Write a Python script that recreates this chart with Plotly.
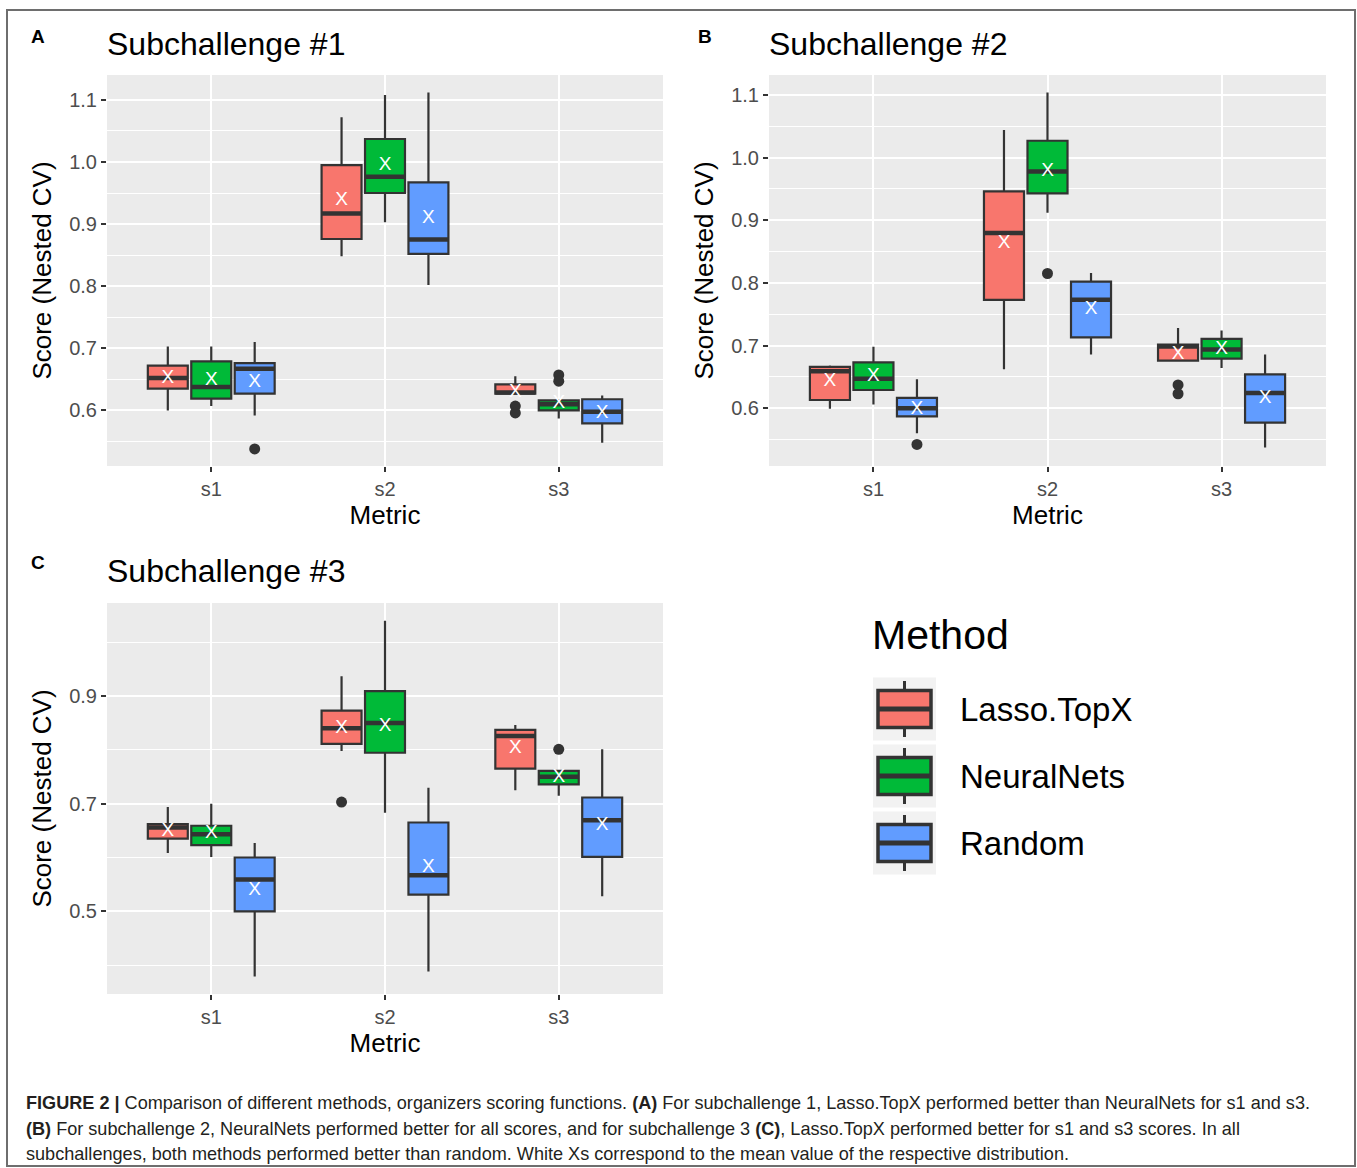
import plotly.graph_objects as go

W, H = 1357, 1168
FONT = "Liberation Sans, Arial, Helvetica, sans-serif"

metrics = ["s1", "s2", "s3"]
methods = ["Lasso.TopX", "NeuralNets", "Random"]
colors = ["#F8766D", "#00BA38", "#619CFF"]

# ---------------- Subchallenge #1 (panel A) ----------------
# each list: [s1, s2, s3]; outer order follows `methods`
sc1_lower = [[0.600, 0.848, 0.627], [0.607, 0.903, 0.587], [0.592, 0.802, 0.548]]
sc1_q1 = [[0.635, 0.876, 0.627], [0.619, 0.950, 0.600], [0.627, 0.852, 0.579]]
sc1_median = [[0.652, 0.917, 0.629], [0.6375, 0.976, 0.610], [0.667, 0.875, 0.598]]
sc1_q3 = [[0.672, 0.995, 0.642], [0.679, 1.037, 0.616], [0.676, 0.967, 0.618]]
sc1_upper = [[0.703, 1.072, 0.655], [0.703, 1.108, 0.617], [0.710, 1.112, 0.624]]
sc1_mean = [[0.652, 0.939, 0.630], [0.648, 0.994, 0.612], [0.646, 0.909, 0.595]]
sc1_out_x = [["s3", "s3"], ["s3", "s3"], ["s1"]]
sc1_out_y = [[0.607, 0.596], [0.657, 0.647], [0.538]]

# ---------------- Subchallenge #2 (panel B) ----------------
sc2_lower = [[0.599, 0.662, 0.676], [0.606, 0.912, 0.664], [0.560, 0.6855, 0.537]]
sc2_q1 = [[0.613, 0.773, 0.676], [0.629, 0.943, 0.679], [0.587, 0.713, 0.577]]
sc2_median = [[0.659, 0.8795, 0.6985], [0.647, 0.978, 0.6935], [0.600, 0.773, 0.624]]
sc2_q3 = [[0.666, 0.946, 0.7015], [0.673, 1.027, 0.7105], [0.6165, 0.802, 0.654]]
sc2_upper = [[0.668, 1.044, 0.728], [0.698, 1.104, 0.724], [0.646, 0.816, 0.6855]]
sc2_mean = [[0.643, 0.864, 0.686], [0.651, 0.979, 0.694], [0.598, 0.758, 0.616]]
sc2_out_x = [["s3", "s3"], ["s2"], ["s1"]]
sc2_out_y = [[0.637, 0.623], [0.815], [0.542]]

# ---------------- Subchallenge #3 (panel C) ----------------
sc3_lower = [[0.6085, 0.798, 0.725], [0.601, 0.683, 0.7146], [0.379, 0.388, 0.528]]
sc3_q1 = [[0.635, 0.811, 0.765], [0.623, 0.7946, 0.736], [0.500, 0.531, 0.601]]
sc3_median = [[0.6557, 0.840, 0.8256], [0.643, 0.850, 0.750], [0.559, 0.567, 0.669]]
sc3_q3 = [[0.662, 0.873, 0.837], [0.659, 0.909, 0.761], [0.600, 0.665, 0.7115]]
sc3_upper = [[0.694, 0.937, 0.846], [0.700, 1.040, 0.763], [0.627, 0.7295, 0.801]]
sc3_mean = [[0.6495, 0.840, 0.8026], [0.6445, 0.843, 0.750], [0.540, 0.5825, 0.660]]
sc3_out_x = [["s2"], ["s3"], []]
sc3_out_y = [[0.703], [0.801], []]

panels = [
    ("x", "y", sc1_lower, sc1_q1, sc1_median, sc1_q3, sc1_upper, sc1_mean, sc1_out_x, sc1_out_y),
    ("x2", "y2", sc2_lower, sc2_q1, sc2_median, sc2_q3, sc2_upper, sc2_mean, sc2_out_x, sc2_out_y),
    ("x3", "y3", sc3_lower, sc3_q1, sc3_median, sc3_q3, sc3_upper, sc3_mean, sc3_out_x, sc3_out_y),
]

DARK = "#333333"
fig = go.Figure()

for xa, ya, lo, q1, med, q3, up, mean, ox, oy in panels:
    for i, m in enumerate(methods):
        fig.add_trace(go.Box(
            x=metrics, q1=q1[i], median=med[i], q3=q3[i],
            lowerfence=lo[i], upperfence=up[i],
            name=m, fillcolor=colors[i], line=dict(color=DARK, width=2.2),
            whiskerwidth=0, boxpoints=False, offsetgroup=m, alignmentgroup="g",
            xaxis=xa, yaxis=ya, showlegend=False, hoverinfo="skip"))
    # thick median bars (line-ew length = 1.4 * size)
    for i, m in enumerate(methods):
        fig.add_trace(go.Scatter(
            x=metrics, y=med[i], mode="markers",
            marker=dict(symbol="line-ew", size=28.5, color=DARK, line=dict(color=DARK, width=4.5)),
            offsetgroup=m, alignmentgroup="g", xaxis=xa, yaxis=ya,
            showlegend=False, hoverinfo="skip"))
    # outliers
    for i, m in enumerate(methods):
        fig.add_trace(go.Scatter(
            x=ox[i], y=oy[i], mode="markers",
            marker=dict(size=11, color=DARK),
            offsetgroup=m, alignmentgroup="g", xaxis=xa, yaxis=ya,
            showlegend=False, hoverinfo="skip"))
    # mean markers (white X)
    for i, m in enumerate(methods):
        fig.add_trace(go.Scatter(
            x=metrics, y=mean[i], mode="text", text=["X"] * 3,
            textposition="middle center",
            textfont=dict(color="white", size=19, family=FONT),
            offsetgroup=m, alignmentgroup="g", xaxis=xa, yaxis=ya,
            showlegend=False, hoverinfo="skip"))


def xdom(a, b):
    return [a / W, b / W]


def ydom(top, bottom):
    return [1 - bottom / H, 1 - top / H]


common_x = dict(
    type="category", categoryorder="array", categoryarray=metrics,
    range=[-0.6, 2.6], showgrid=True, gridcolor="white", gridwidth=2,
    ticks="outside", ticklen=5, tickwidth=2, tickcolor=DARK,
    tickfont=dict(size=20, color="#4D4D4D", family=FONT),
    zeroline=False, showline=False,
    title=dict(text="Metric", font=dict(size=26, color="black", family=FONT), standoff=6),
)
common_y = dict(
    showgrid=True, gridcolor="white", gridwidth=2,
    ticks="outside", ticklen=5, tickwidth=2, tickcolor=DARK,
    tickfont=dict(size=20, color="#4D4D4D", family=FONT),
    tickformat=".1f", zeroline=False, showline=False,
    title=dict(text="Score (Nested CV)", font=dict(size=26, color="black", family=FONT), standoff=10),
)

fig.update_layout(
    width=W, height=H, margin=dict(l=0, r=0, t=0, b=0),
    paper_bgcolor="white", plot_bgcolor="#EBEBEB",
    boxmode="group", boxgap=0.25, boxgroupgap=0.08,
    scattermode="group", scattergap=0.25,
    showlegend=False,
    xaxis=dict(common_x, domain=xdom(107, 663), anchor="y"),
    yaxis=dict(common_y, domain=ydom(75, 466), anchor="x", range=[0.5105, 1.140],
               tick0=0, dtick=0.1,
               minor=dict(tick0=0.05, dtick=0.1, showgrid=True, gridcolor="white", gridwidth=1, ticks="")),
    xaxis2=dict(common_x, domain=xdom(769, 1326), anchor="y2"),
    yaxis2=dict(common_y, domain=ydom(75, 466), anchor="x2", range=[0.5076, 1.132],
                tick0=0, dtick=0.1,
                minor=dict(tick0=0.05, dtick=0.1, showgrid=True, gridcolor="white", gridwidth=1, ticks="")),
    xaxis3=dict(common_x, domain=xdom(107, 663), anchor="y3"),
    yaxis3=dict(common_y, domain=ydom(603, 994), anchor="x3", range=[0.3463, 1.0729],
                tick0=0.1, dtick=0.2,
                minor=dict(tick0=0, dtick=0.1, showgrid=True, gridcolor="white", gridwidth=1, ticks="")),
)


def px(x):
    return x / W


def py(y):
    return 1 - y / H


annotations = []
shapes = []


def text(x, y, s, size, color="black", xanchor="left", bold=False):
    annotations.append(dict(
        x=px(x), y=py(y), xref="paper", yref="paper", text=(f"<b>{s}</b>" if bold else s),
        showarrow=False, xanchor=xanchor, yanchor="middle",
        font=dict(size=size, color=color, family=FONT)))


# panel letters and titles
text(38, 37, "A", 19, xanchor="center", bold=True)
text(105, 44, "Subchallenge #1", 32)
text(705, 37, "B", 19, xanchor="center", bold=True)
text(767, 44, "Subchallenge #2", 32)
text(38, 562, "C", 19, xanchor="center", bold=True)
text(105, 571, "Subchallenge #3", 32)

# legend (drawn manually to mimic ggplot keys)
text(870, 635, "Method", 41)
key_centers = [709, 776, 843]
for i, m in enumerate(methods):
    cy = key_centers[i]
    shapes.append(dict(type="rect", xref="paper", yref="paper",
                       x0=px(873), x1=px(936), y0=py(cy - 31.5), y1=py(cy + 31.5),
                       fillcolor="#F2F2F2", line=dict(width=0), layer="above"))
    shapes.append(dict(type="line", xref="paper", yref="paper",
                       x0=px(904.5), x1=px(904.5), y0=py(cy - 28), y1=py(cy + 28),
                       line=dict(color=DARK, width=3), layer="above"))
    shapes.append(dict(type="rect", xref="paper", yref="paper",
                       x0=px(878), x1=px(931), y0=py(cy - 18.5), y1=py(cy + 18.5),
                       fillcolor=colors[i], line=dict(color=DARK, width=3.5), layer="above"))
    shapes.append(dict(type="line", xref="paper", yref="paper",
                       x0=px(878), x1=px(931), y0=py(cy), y1=py(cy),
                       line=dict(color=DARK, width=5), layer="above"))
    text(958, cy, m, 33)

# caption
CAP = "#231F20"
cap_lines = [
    "<b>FIGURE 2 |</b> Comparison of different methods, organizers scoring functions. <b>(A)</b> For subchallenge 1, Lasso.TopX performed better than NeuralNets for s1 and s3.",
    "<b>(B)</b> For subchallenge 2, NeuralNets performed better for all scores, and for subchallenge 3 <b>(C)</b>, Lasso.TopX performed better for s1 and s3 scores. In all",
    "subchallenges, both methods performed better than random. White Xs correspond to the mean value of the respective distribution.",
]
for j, line in enumerate(cap_lines):
    annotations.append(dict(
        x=px(24), y=py(1103 + j * 25.5), xref="paper", yref="paper", text=line,
        showarrow=False, xanchor="left", yanchor="middle",
        font=dict(size=18.1, color=CAP, family=FONT)))

# outer frame
shapes.append(dict(type="rect", xref="paper", yref="paper",
                   x0=px(7), x1=px(1355), y0=py(10), y1=py(1166),
                   line=dict(color="#6E6E6E", width=2), fillcolor="rgba(0,0,0,0)", layer="above"))

fig.update_layout(annotations=annotations, shapes=shapes)
fig.write_html("out.html")
